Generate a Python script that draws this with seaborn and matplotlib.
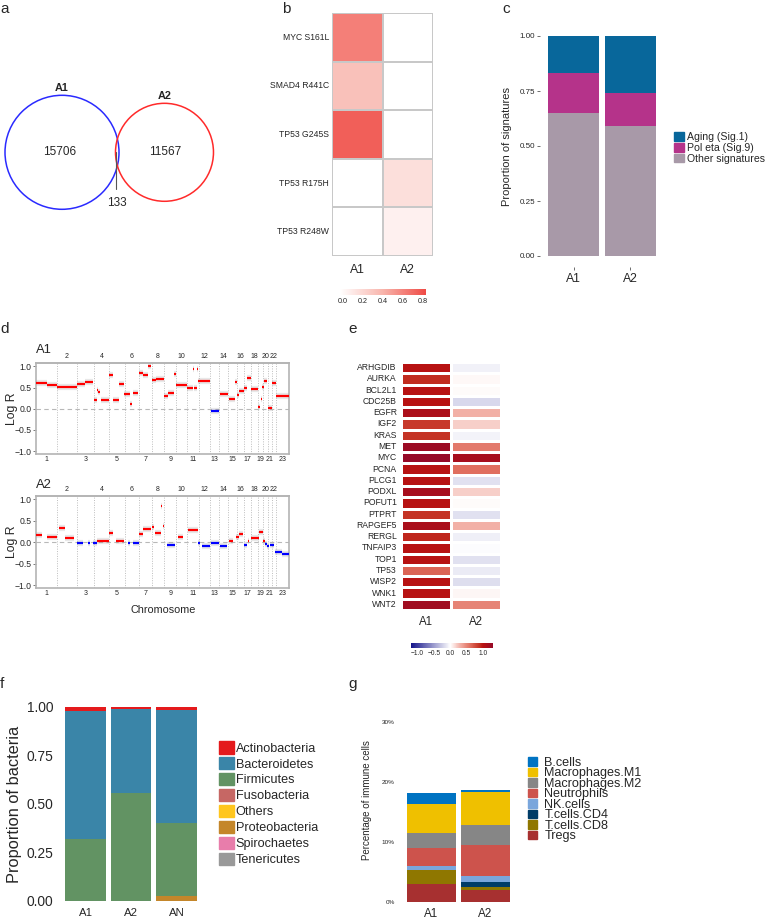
import numpy as np
import pandas as pd
import matplotlib
matplotlib.use('Agg')
import matplotlib.pyplot as plt
import seaborn as sns
from matplotlib.colors import LinearSegmentedColormap, Normalize
from matplotlib.patches import Circle, Patch
import matplotlib.cm as cm

sns.set_style('white')
plt.rcParams['font.family'] = ['Liberation Sans', 'DejaVu Sans']
plt.rcParams['axes.unicode_minus'] = True

# ---------------- data ----------------
venn_sets = ['A1', 'A2']
venn_only = [15706, 11567]
venn_shared = 133

mut_names = ['MYC S161L', 'SMAD4 R441C', 'TP53 G245S', 'TP53 R175H', 'TP53 R248W']
mut_A1 = [0.60, 0.33, 0.72, 0.0, 0.0]
mut_A2 = [0.0, 0.0, 0.0, 0.17, 0.08]

sig_samples = ['A1', 'A2']
sig_names = ['Aging (Sig.1)', 'Pol eta (Sig.9)', 'Other signatures']
sig_aging = [0.17, 0.26]
sig_poleta = [0.18, 0.15]
sig_other = [0.65, 0.59]

chrom_names = [str(i) for i in range(1, 24)]
chrom_len = [249, 243, 198, 191, 181, 171, 159, 146, 141, 136, 135, 134, 115,
             107, 103, 90, 81, 78, 59, 63, 48, 51, 155]

a1_start = [0, 128, 248, 492, 588, 696, 728, 748, 776, 880, 928, 1000, 1060, 1128, 1160,
            1232, 1288, 1348, 1392, 1440, 1536, 1588, 1660, 1680, 1816, 1880, 1900, 1930,
            1948, 2100, 2208, 2312, 2392, 2408, 2440, 2500, 2528, 2576, 2660, 2696, 2716,
            2736, 2780, 2828, 2880]
a1_end = [128, 248, 488, 588, 688, 728, 748, 768, 880, 928, 1000, 1060, 1128, 1156, 1228,
          1288, 1348, 1376, 1440, 1536, 1588, 1660, 1676, 1808, 1880, 1896, 1926, 1944,
          2084, 2200, 2304, 2392, 2408, 2440, 2500, 2528, 2576, 2660, 2688, 2716, 2736,
          2768, 2828, 2880, 3032]
a1_logr = [0.60, 0.56, 0.52, 0.58, 0.62, 0.20, 0.45, 0.40, 0.20, 0.79, 0.20, 0.58, 0.35,
           0.10, 0.37, 0.84, 0.79, 1.00, 0.67, 0.71, 0.30, 0.36, 0.83, 0.55, 0.48, 0.93,
           0.48, 0.95, 0.65, -0.06, 0.35, 0.22, 0.62, 0.33, 0.43, 0.48, 0.73, 0.47, 0.05,
           0.22, 0.52, 0.66, 0.02, 0.60, 0.30]

a2_start = [0, 128, 280, 348, 492, 628, 680, 736, 880, 960, 1108, 1160, 1232, 1288, 1392,
            1432, 1504, 1520, 1568, 1708, 1820, 1948, 1988, 2100, 2208, 2312, 2400, 2440,
            2500, 2540, 2576, 2680, 2720, 2748, 2768, 2808, 2868, 2948]
a2_end = [68, 248, 348, 456, 568, 648, 736, 880, 920, 1060, 1128, 1232, 1288, 1376, 1416,
          1504, 1516, 1536, 1672, 1768, 1948, 1968, 2084, 2200, 2288, 2368, 2440, 2488,
          2528, 2552, 2680, 2720, 2748, 2768, 2800, 2856, 2948, 3034]
a2_logr = [0.16, 0.12, 0.33, 0.11, -0.03, -0.01, -0.02, 0.02, 0.21, 0.03, -0.01, -0.01,
           0.20, 0.30, 0.35, 0.21, 0.85, 0.38, -0.07, 0.13, 0.28, -0.02, -0.09, -0.01,
           -0.08, 0.03, 0.13, 0.19, -0.06, 0.02, 0.10, 0.23, 0.02, -0.04, -0.08, -0.06,
           -0.22, -0.27]

genes = ['ARHGDIB', 'AURKA', 'BCL2L1', 'CDC25B', 'EGFR', 'IGF2', 'KRAS', 'MET', 'MYC',
         'PCNA', 'PLCG1', 'PODXL', 'POFUT1', 'PTPRT', 'RAPGEF5', 'RERGL', 'TNFAIP3',
         'TOP1', 'TP53', 'WISP2', 'WNK1', 'WNT2']
expr_A1 = [1.0, 0.9, 1.0, 1.0, 1.1, 0.85, 0.88, 1.25, 1.3, 1.0, 1.0, 1.15, 1.0, 0.88,
           1.12, 0.92, 1.0, 1.0, 0.65, 1.0, 1.0, 1.2]
expr_A2 = [-0.07, 0.03, 0.02, -0.2, 0.3, 0.18, -0.06, 0.55, 1.15, 0.6, -0.15, 0.18, 0.02,
           -0.15, 0.3, -0.08, -0.01, -0.15, -0.1, -0.17, 0.04, 0.5]

bac_samples = ['A1', 'A2', 'AN']
bac_phyla = ['Actinobacteria', 'Bacteroidetes', 'Firmicutes', 'Fusobacteria', 'Others',
             'Proteobacteria', 'Spirochaetes', 'Tenericutes']
bac_actino = [0.023, 0.014, 0.015]
bac_bactero = [0.657, 0.431, 0.585]
bac_firmi = [0.320, 0.555, 0.372]
bac_fuso = [0.0, 0.0, 0.0]
bac_others = [0.0, 0.0, 0.0]
bac_proteo = [0.0, 0.0, 0.028]
bac_spiro = [0.0, 0.0, 0.0]
bac_teneri = [0.0, 0.0, 0.0]

imm_samples = ['A1', 'A2']
imm_types = ['B.cells', 'Macrophages.M1', 'Macrophages.M2', 'Neutrophils', 'NK.cells',
             'T.cells.CD4', 'T.cells.CD8', 'Tregs']
imm_bcells = [1.75, 0.4]
imm_m1 = [4.9, 5.5]
imm_m2 = [2.4, 3.35]
imm_neut = [3.05, 5.15]
imm_nk = [0.65, 1.0]
imm_cd4 = [0.0, 0.85]
imm_cd8 = [2.4, 0.5]
imm_tregs = [2.9, 1.95]

# ---------------- figure helpers ----------------
W, H = 769, 919
fig = plt.figure(figsize=(W / 100, H / 100), dpi=100)


def ax_px(x0, y0, x1, y1):
    return fig.add_axes([x0 / W, 1 - y1 / H, (x1 - x0) / W, (y1 - y0) / H])


def ftext(x, y, s, **kw):
    return fig.text(x / W, 1 - y / H, s, **kw)


def stacked(ax, samples, layers, colors):
    # layers listed bottom -> top
    cum = np.zeros(len(samples))
    cums = []
    for lay in layers:
        cum = cum + np.array(lay, dtype=float)
        cums.append(cum.copy())
    for c, col in reversed(list(zip(cums, colors))):
        sns.barplot(x=samples, y=c, color=col, width=0.9, saturation=1,
                    errorbar=None, linewidth=0, ax=ax)


# panel letters
for s, x, y in [('a', 0, 13), ('b', 282, 13), ('c', 502, 13), ('d', 0, 333),
                ('e', 348, 333), ('f', 0, 688), ('g', 348, 688)]:
    ftext(x, y, s, fontsize=11, va='baseline', ha='left')

# ---------------- a: Venn ----------------
axa = ax_px(0, 20, 250, 320)
axa.set_xlim(0, 250)
axa.set_ylim(320, 20)
axa.axis('off')
k = 57 / np.sqrt(venn_only[0] + venn_shared)
r1 = k * np.sqrt(venn_only[0] + venn_shared)
r2 = k * np.sqrt(venn_only[1] + venn_shared)
c1 = (62, 152.3)
c2 = (62 + r1 + r2 - 3.5, 152.3)
axa.add_patch(Circle(c1, r1, fill=False, ec='#2a2aff', lw=1.1))
axa.add_patch(Circle(c2, r2, fill=False, ec='#ff2a2a', lw=1.1))
axa.text(c1[0], c1[1] - r1 - 4, venn_sets[0], ha='center', va='baseline',
         fontsize=7.8, fontweight='bold')
axa.text(c2[0], c2[1] - r2 - 4, venn_sets[1], ha='center', va='baseline',
         fontsize=7.8, fontweight='bold')
axa.text(c1[0] - 2, c1[1], str(venn_only[0]), ha='center', va='center', fontsize=8.5)
axa.text(c2[0] + 1, c2[1], str(venn_only[1]), ha='center', va='center', fontsize=8.5)
xo = c1[0] + r1 - 2.5
axa.plot([xo, xo], [151.5, 188.5], color='#555555', lw=0.8)
axa.text(xo + 0.5, 203, str(venn_shared), ha='center', va='center', fontsize=8.5)

# ---------------- b: mutation heatmap ----------------
axb = ax_px(332, 13, 433, 256)
mut_df = pd.DataFrame({'A1': mut_A1, 'A2': mut_A2}, index=mut_names)
cmap_b = LinearSegmentedColormap.from_list('wr', ['#ffffff', '#f8b4ab', '#ef4a45'])
sns.heatmap(mut_df, ax=axb, cmap=cmap_b, vmin=0, vmax=0.8, cbar=False,
            linewidths=1.3, linecolor='#c8c8c8', yticklabels=True, xticklabels=True)
axb.tick_params(length=0)
axb.tick_params(axis='y', labelsize=6.2, pad=2, rotation=0)
axb.tick_params(axis='x', labelsize=8.8, pad=6)
cbx = ax_px(340, 289, 426, 295)
cbb = fig.colorbar(cm.ScalarMappable(norm=Normalize(-0.03, 0.83), cmap=cmap_b),
                   cax=cbx, orientation='horizontal')
cbb.outline.set_visible(False)
cbb.set_ticks([0, 0.2, 0.4, 0.6, 0.8])
cbb.ax.tick_params(length=0, labelsize=5.2, pad=2)
cbb.ax.set_xticklabels(['0.0', '0.2', '0.4', '0.6', '0.8'])

# ---------------- c: signatures ----------------
axc = ax_px(540, 25, 664, 267)
stacked(axc, sig_samples, [sig_other, sig_poleta, sig_aging],
        ['#a899a8', '#b5338a', '#08679b'])
axc.set_xlim(-0.6, 1.6)
axc.set_ylim(-0.05, 1.05)
for s in axc.spines.values():
    s.set_visible(False)
axc.set_yticks([0, 0.25, 0.5, 0.75, 1.0])
axc.set_yticklabels(['0.00', '0.25', '0.50', '0.75', '1.00'])
axc.tick_params(axis='y', length=2.5, width=0.6, color='#555555', labelsize=5.8, pad=1,
                left=True)
axc.tick_params(axis='x', length=2.5, width=0.6, color='#555555', labelsize=8.8, pad=2,
                bottom=True)
axc.set_ylabel('')
ftext(507, 146, 'Proportion of signatures', fontsize=8.0, rotation=90,
      ha='center', va='center')
handles_c = [Patch(color=c) for c in ['#08679b', '#b5338a', '#a899a8']]
axc.legend(handles_c, sig_names, loc='upper left', bbox_to_anchor=(674 / W, 1 - 132 / H),
           bbox_transform=fig.transFigure, frameon=False, fontsize=7.6,
           handlelength=0.9, handleheight=0.9, handletextpad=0.3, labelspacing=0.07,
           borderpad=0, borderaxespad=0)

# ---------------- d: copy number ----------------
bounds = np.concatenate([[0], np.cumsum(chrom_len)])
centers = (bounds[:-1] + bounds[1:]) / 2
total = bounds[-1]


def draw_cnv(ax, st, en, vals, title, tx, ty):
    ax.set_xlim(0, total)
    ax.set_ylim(-1.07, 1.08)
    for b in bounds[1:-1]:
        ax.axvline(b, color='#bdbdbd', ls=(0, (1, 1.5)), lw=0.7, zorder=1)
    ax.axhline(0, color='#b8b8b8', ls=(0, (4, 3)), lw=0.8, zorder=1)
    cols = ['#ff0000' if v > 0 else '#0000ff' for v in vals]
    ax.hlines(vals, st, en, colors='#9a9a9a', lw=4.5, alpha=0.22, zorder=2)
    ax.hlines(vals, st, en, colors=cols, lw=1.6, zorder=3)
    for s in ax.spines.values():
        s.set_color('#b4b4b4')
        s.set_linewidth(1.2)
    ax.set_yticks([-1, -0.5, 0, 0.5, 1])
    ax.set_yticklabels(['\u22121.0', '\u22120.5', '0.0', '0.5', '1.0'])
    ax.tick_params(axis='y', length=2, width=0.6, color='#666666', labelsize=6.2, pad=1,
                   left=True)
    odd = list(range(0, 23, 2))
    even = list(range(1, 23, 2))
    ax.set_xticks(centers[odd])
    ax.set_xticklabels([chrom_names[i] for i in odd])
    ax.tick_params(axis='x', length=0, labelsize=5, pad=1.5, bottom=True)
    sec = ax.secondary_xaxis('top')
    sec.set_xticks(centers[even])
    sec.set_xticklabels([chrom_names[i] for i in even])
    sec.tick_params(length=0, labelsize=5, pad=2)
    sec.spines['top'].set_color('#b4b4b4')
    sec.spines['top'].set_linewidth(1.2)
    bb = ax.get_position()
    ycen = (1 - (bb.y0 + bb.y1) / 2) * H
    ftext(12.5, ycen, 'Log R', fontsize=8.8, rotation=90, ha='center', va='center')
    ftext(tx, ty, title, fontsize=9.4, va='center', ha='left')


axd1 = ax_px(36, 363, 289, 454)
draw_cnv(axd1, a1_start, a1_end, a1_logr, 'A1', 36, 350)
axd2 = ax_px(36, 496, 289, 588)
draw_cnv(axd2, a2_start, a2_end, a2_logr, 'A2', 36, 485)
ftext(163, 610, 'Chromosome', fontsize=7.8, ha='center', va='center')

# ---------------- e: expression heatmap ----------------
axe = ax_px(401, 362, 501, 610)
expr_df = pd.DataFrame({'A1': expr_A1, 'A2': expr_A2}, index=genes)
vmin_e, vmax_e = -1.2, 1.3
anch = [(-1.2, '#14148a'), (0.0, '#ffffff'), (0.3, '#f2b0a6'), (0.6, '#e07060'),
        (0.9, '#c22e20'), (1.0, '#b81212'), (1.3, '#960a28')]
cmap_e = LinearSegmentedColormap.from_list(
    'nwr', [((v - vmin_e) / (vmax_e - vmin_e), c) for v, c in anch])
sns.heatmap(expr_df, ax=axe, cmap=cmap_e, vmin=vmin_e, vmax=vmax_e, cbar=False,
            linewidths=1.0, linecolor='white', yticklabels=True, xticklabels=True)
axe.tick_params(length=0)
axe.tick_params(axis='y', labelsize=6.2, pad=3, rotation=0)
axe.tick_params(axis='x', labelsize=8.3, pad=4)
cex = ax_px(411, 643, 493, 648)
cbe = fig.colorbar(cm.ScalarMappable(norm=Normalize(vmin_e, vmax_e), cmap=cmap_e),
                   cax=cex, orientation='horizontal')
cbe.outline.set_visible(False)
cbe.set_ticks([-1, -0.5, 0, 0.5, 1])
cbe.ax.set_xticklabels(['\u22121.0', '\u22120.5', '0.0', '0.5', '1.0'])
cbe.ax.tick_params(length=0, labelsize=4.8, pad=1.5)

# ---------------- f: bacteria ----------------
bac_colors = ['#e41a1c', '#3a85a8', '#629363', '#c66764', '#ffc61e', '#c4862a',
              '#e87dab', '#999999']
bac_layers = [bac_actino, bac_bactero, bac_firmi, bac_fuso, bac_others, bac_proteo,
              bac_spiro, bac_teneri]
axf = ax_px(60.5, 697, 201.5, 910.7)
stacked(axf, bac_samples, bac_layers[::-1], bac_colors[::-1])
axf.set_xlim(-0.55, 2.55)
axf.set_ylim(-0.05, 1.05)
for s in axf.spines.values():
    s.set_visible(False)
axf.set_yticks([0, 0.25, 0.5, 0.75, 1.0])
axf.set_yticklabels(['0.00', '0.25', '0.50', '0.75', '1.00'])
axf.tick_params(axis='y', length=0, labelsize=9.9, pad=5)
axf.tick_params(axis='x', length=0, labelsize=8.2, pad=-2)
axf.set_ylabel('')
ftext(15, 804, 'Proportion of bacteria', fontsize=11.8, rotation=90,
      ha='center', va='center')
axf.legend([Patch(color=c) for c in bac_colors], bac_phyla, loc='upper left',
           bbox_to_anchor=(219 / W, 1 - 741 / H), bbox_transform=fig.transFigure,
           frameon=False, fontsize=9.1, handlelength=1.18, handleheight=1.15,
           handletextpad=0.15, labelspacing=0.19, borderpad=0, borderaxespad=0)

# ---------------- g: immune cells ----------------
imm_colors = ['#0073c2', '#efc000', '#868686', '#cd534c', '#7aa6dc', '#003c67',
              '#8f7700', '#a73030']
imm_layers = [imm_bcells, imm_m1, imm_m2, imm_neut, imm_nk, imm_cd4, imm_cd8, imm_tregs]
axg = ax_px(398.8, 712.7, 518, 910.7)
stacked(axg, imm_samples, imm_layers[::-1], imm_colors[::-1])
axg.set_xlim(-0.6, 1.6)
axg.set_ylim(-1.5, 31.5)
for s in axg.spines.values():
    s.set_visible(False)
axg.set_yticks([0, 10, 20, 30])
axg.set_yticklabels(['0%', '10%', '20%', '30%'])
axg.tick_params(axis='y', length=0, labelsize=4.6, pad=3)
axg.tick_params(axis='x', length=0, labelsize=8.4, pad=-2)
axg.set_ylabel('')
ftext(367, 800, 'Percentage of immune cells', fontsize=7.0, rotation=90,
      ha='center', va='center')
axg.legend([Patch(color=c) for c in imm_colors], imm_types, loc='upper left',
           bbox_to_anchor=(528 / W, 1 - 757 / H), bbox_transform=fig.transFigure,
           frameon=False, fontsize=9.1, handlelength=0.74, handleheight=0.7,
           handletextpad=0.55, labelspacing=-0.12, borderpad=0, borderaxespad=0)

fig.savefig('out.png', dpi=100)
